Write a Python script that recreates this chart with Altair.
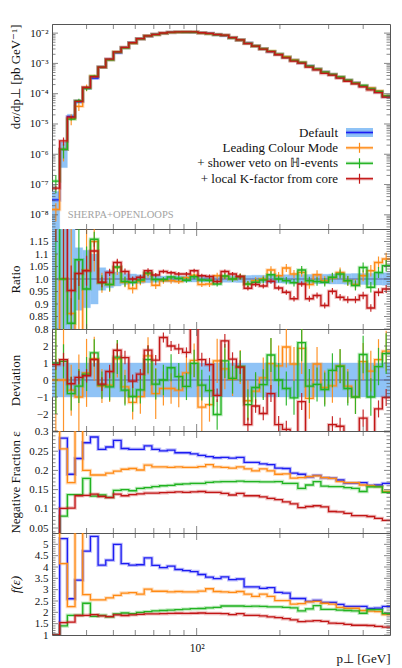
import math
import altair as alt
import pandas as pd

# ---------------- data ----------------
EDGES = [30.0, 31.98, 34.09, 36.34, 38.74, 41.3, 44.03, 46.94, 50.04, 53.34, 56.86,
         60.62, 64.62, 68.89, 73.44, 78.29, 83.46, 88.97, 94.85, 101.11, 107.79,
         114.9, 122.49, 130.58, 139.2, 148.4, 158.2, 168.64, 179.78, 191.65, 204.31,
         217.8, 232.18, 247.52, 263.86, 281.28, 299.86, 319.66, 340.77, 363.27,
         387.26, 412.84, 440.1, 469.16, 500.0]

SERIES = ["Default", "Leading Colour Mode", "+ shower veto on \u210d-events",
          "+ local K-factor from core"]

xsec_default = [3.1e-8, 1.45e-6, 1.75e-5, 5.5e-5, 1.55e-4, 3.3e-4, 7.6e-4, 1.35e-3, 2.25e-3, 3.3e-3,
                4.8e-3, 6.5e-3, 7.9e-3, 9.0e-3, 9.8e-3, 1.05e-2, 1.08e-2, 1.08e-2, 1.06e-2, 1.02e-2,
                9.7e-3, 9.0e-3, 8.3e-3, 7.0e-3, 5.9e-3, 4.7e-3, 3.8e-3, 3.05e-3, 2.45e-3, 2.0e-3,
                1.6e-3, 1.28e-3, 1.04e-3, 8.2e-4, 6.5e-4, 5.2e-4, 4.3e-4, 3.5e-4, 2.8e-4, 2.3e-4,
                1.8e-4, 1.5e-4, 1.15e-4, 8.0e-5]
xsec_lc = [1.5e-8, 1.45e-6, 1.5e-5, 3.8e-5, 1.6e-4, 3.8e-4, 7.5e-4, 1.32e-3, 2.35e-3, 3.26e-3,
           4.6e-3, 6.45e-3, 8.05e-3, 8.8e-3, 9.75e-3, 1.04e-2, 1.07e-2, 1.09e-2, 1.08e-2, 1.0e-2,
           9.5e-3, 9.1e-3, 8.4e-3, 7.0e-3, 5.95e-3, 4.6e-3, 3.77e-3, 3.05e-3, 2.54e-3, 2.03e-3,
           1.67e-3, 1.31e-3, 1.07e-3, 8.0e-4, 6.6e-4, 5.15e-4, 4.3e-4, 3.6e-4, 2.78e-4, 2.25e-4,
           1.82e-4, 1.55e-4, 1.23e-4, 8.6e-5]
xsec_veto = [1.3e-7, 1.45e-6, 1.45e-5, 5.9e-5, 1.5e-4, 3.8e-4, 7.5e-4, 1.32e-3, 2.36e-3, 3.27e-3,
             4.74e-3, 6.47e-3, 8.1e-3, 9.0e-3, 9.8e-3, 1.06e-2, 1.08e-2, 1.07e-2, 1.07e-2, 1.02e-2,
             9.65e-3, 8.8e-3, 8.4e-3, 7.0e-3, 5.95e-3, 4.6e-3, 3.75e-3, 3.04e-3, 2.49e-3, 2.0e-3,
             1.59e-3, 1.26e-3, 1.08e-3, 8.15e-4, 6.45e-4, 5.13e-4, 4.33e-4, 3.57e-4, 2.78e-4, 2.24e-4,
             1.88e-4, 1.45e-4, 1.18e-4, 8.4e-5]
xsec_kf = [7.6e-8, 2.75e-6, 1.67e-5, 5.6e-5, 1.6e-4, 3.65e-4, 7.5e-4, 1.39e-3, 2.4e-3, 3.4e-3,
           4.8e-3, 6.55e-3, 8.15e-3, 9.15e-3, 1.01e-2, 1.08e-2, 1.1e-2, 1.1e-2, 1.1e-2, 1.03e-2,
           9.8e-3, 8.9e-3, 8.55e-3, 7.15e-3, 5.95e-3, 4.53e-3, 3.72e-3, 2.96e-3, 2.43e-3, 1.93e-3,
           1.52e-3, 1.18e-3, 1.02e-3, 7.55e-4, 6.07e-4, 4.65e-4, 4.09e-4, 3.24e-4, 2.57e-4, 2.11e-4,
           1.68e-4, 1.33e-4, 1.09e-4, 7.7e-5]
default_relerr = [0.9, 0.75, 0.2, 0.125, 0.115, 0.1, 0.045, 0.035, 0.028, 0.022,
                  0.02, 0.017, 0.015, 0.013, 0.012, 0.012, 0.012, 0.012, 0.012, 0.012,
                  0.012, 0.012, 0.013, 0.013, 0.014, 0.014, 0.015, 0.015, 0.016, 0.016,
                  0.017, 0.017, 0.018, 0.018, 0.019, 0.019, 0.02, 0.02, 0.021, 0.022,
                  0.022, 0.023, 0.024, 0.025]

ratio_default = [1.0] * 44
ratio_lc = [0.5, 1.0, 0.862, 0.72, 1.035, 1.15, 0.985, 0.978, 1.046, 0.987,
            0.962, 0.99, 1.02, 0.975, 0.993, 0.993, 0.99, 1.005, 1.015, 0.978,
            0.98, 1.013, 1.01, 1.0, 1.01, 0.98, 0.993, 1.0, 1.036, 1.013,
            1.044, 1.02, 1.026, 0.978, 1.017, 0.993, 1.005, 1.026, 0.993, 0.978,
            1.013, 1.033, 1.066, 1.08]
ratio_err_lc = [0.6, 0.6, 0.4, 0.3, 0.25, 0.12, 0.04, 0.03, 0.03, 0.02,
                0.02, 0.015, 0.015, 0.015, 0.012, 0.012, 0.01, 0.01, 0.01, 0.01,
                0.012, 0.012, 0.012, 0.012, 0.013, 0.013, 0.014, 0.014, 0.015, 0.015,
                0.016, 0.016, 0.017, 0.017, 0.018, 0.018, 0.019, 0.02, 0.02, 0.021,
                0.022, 0.023, 0.024, 0.025]
ratio_veto = [1.3, 1.0, 0.823, 1.077, 0.96, 1.159, 0.985, 0.978, 1.048, 0.99,
              0.987, 0.996, 1.024, 0.998, 0.998, 1.008, 1.003, 0.995, 1.009, 0.996,
              0.995, 0.98, 1.012, 1.0, 1.009, 0.98, 0.987, 0.996, 1.017, 1.0,
              0.993, 0.985, 1.036, 0.993, 0.99, 0.987, 1.007, 1.02, 0.993, 0.974,
              1.046, 0.967, 1.026, 1.053]
ratio_err_veto = [0.6, 0.5, 0.1, 0.16, 0.17, 0.03, 0.03, 0.025, 0.02, 0.02,
                  0.015, 0.015, 0.012, 0.012, 0.01, 0.01, 0.01, 0.01, 0.01, 0.01,
                  0.01, 0.01, 0.012, 0.012, 0.012, 0.012, 0.013, 0.013, 0.014, 0.014,
                  0.015, 0.015, 0.016, 0.016, 0.017, 0.017, 0.018, 0.018, 0.019, 0.02,
                  0.02, 0.021, 0.022, 0.023]
ratio_kf = [1.3, 1.3, 0.954, 1.022, 1.033, 1.112, 0.987, 1.026, 1.066, 1.03,
            1.0, 1.007, 1.033, 1.016, 1.03, 1.025, 1.02, 1.02, 1.033, 1.013,
            1.01, 0.99, 1.03, 1.02, 1.01, 0.963, 0.978, 0.972, 0.991, 0.964,
            0.947, 0.921, 0.98, 0.921, 0.934, 0.894, 0.951, 0.927, 0.917, 0.917,
            0.934, 0.884, 0.947, 0.96]
ratio_err_kf = [0.15, 0.3, 0.1, 0.05, 0.06, 0.04, 0.02, 0.015, 0.015, 0.012,
                0.01, 0.01, 0.01, 0.008, 0.008, 0.008, 0.008, 0.008, 0.008, 0.008,
                0.008, 0.008, 0.008, 0.008, 0.009, 0.009, 0.009, 0.01, 0.01, 0.01,
                0.01, 0.011, 0.011, 0.012, 0.012, 0.012, 0.013, 0.013, 0.014, 0.014,
                0.015, 0.015, 0.016, 0.016]

dev_default = [0.0] * 44
dev_lc = [0.0, 0.0, -0.6, -1.0, 0.42, 1.25, -0.36, -0.3, 1.25, -0.4,
          -1.32, -0.98, 1.42, -0.8, -0.5, -0.5, -0.6, 0.42, 1.15, -1.6,
          -1.45, 1.13, 0.65, 0.06, 0.76, -1.22, -0.66, 0.13, 0.96, 0.83,
          1.94, 0.94, 1.86, -1.08, 0.94, -0.44, -0.34, 0.83, -0.36, -0.99,
          1.08, 0.52, 1.2, 1.7]
dev_err_lc = [3.0, 3.0, 1.5, 2.5, 2.0, 1.3, 1.0, 1.0, 1.1, 1.0,
              1.0, 1.0, 1.1, 1.5, 1.0, 0.9, 1.0, 1.0, 1.0, 1.5,
              1.0, 1.3, 1.2, 1.0, 1.0, 1.2, 1.0, 1.2, 1.5, 1.2,
              1.2, 1.0, 1.5, 1.2, 1.0, 1.0, 1.0, 1.0, 1.0, 1.0,
              1.1, 1.2, 1.2, 1.2]
dev_veto = [1.0, 1.1, -0.8, -0.36, 0.35, 1.6, -0.3, -0.4, 1.35, -0.6,
            -0.97, -0.58, 1.2, -0.24, 0.0, 0.72, 0.2, -0.38, 0.98, -0.3,
            -0.63, -2.03, 1.12, 0.1, 0.8, -1.45, -0.44, -0.27, 1.47, 0.0,
            -0.5, -1.05, 2.2, -0.36, -0.26, -0.56, 0.57, 0.81, -0.5, -1.0,
            1.5, -1.0, 0.79, 1.55]
dev_err_veto = [3.0, 1.0, 1.0, 1.0, 1.0, 0.8, 0.8, 0.8, 1.0, 0.9,
                0.9, 0.8, 0.8, 0.9, 0.9, 0.8, 0.8, 0.8, 0.8, 0.9,
                0.9, 0.9, 1.0, 0.9, 0.9, 0.9, 0.9, 0.9, 1.0, 1.0,
                1.0, 1.0, 1.1, 1.0, 1.0, 1.0, 1.0, 1.0, 1.0, 1.0,
                1.1, 1.1, 1.1, 1.2]
dev_kf = [0.9, 1.2, -0.22, 0.15, 0.25, 1.2, -0.24, 0.5, 1.75, 1.32,
          -0.07, 0.35, 1.76, 1.17, 2.5, 2.0, 1.83, 1.62, 3.5, 1.2,
          0.9, -0.9, 2.3, 1.23, 0.76, -2.62, -1.53, -1.97, -0.8, -2.62,
          -2.9, -3.5, -1.27, -3.5, -3.5, -3.5, -2.63, -2.72, -3.5, -3.5,
          -2.24, -3.5, -1.7, -1.03]
dev_err_kf = [0.3, 0.4, 0.4, 0.4, 0.4, 0.4, 0.4, 0.4, 0.4, 0.4,
              0.4, 0.3, 0.3, 0.3, 0.3, 0.3, 0.3, 0.3, 0.3, 0.4,
              0.4, 0.4, 0.4, 0.4, 0.4, 0.4, 0.4, 0.4, 0.5, 0.5,
              0.5, 0.5, 0.5, 0.5, 0.5, 0.5, 0.5, 0.5, 0.5, 0.5,
              0.5, 0.5, 0.5, 0.5]

eps_default = [0.0, 0.284, 0.19, 0.231, 0.272, 0.287, 0.255, 0.261, 0.278, 0.257,
               0.255, 0.255, 0.264, 0.255, 0.251, 0.253, 0.246, 0.246, 0.243, 0.239,
               0.236, 0.233, 0.234, 0.232, 0.234, 0.221, 0.221, 0.217, 0.215, 0.206,
               0.205, 0.193, 0.19, 0.183, 0.187, 0.181, 0.18, 0.175, 0.167, 0.167,
               0.168, 0.161, 0.162, 0.166]
eps_lc = [0.35, 0.256, 0.168, 0.34, 0.2, 0.188, 0.188, 0.193, 0.198, 0.203,
          0.205, 0.201, 0.214, 0.209, 0.209, 0.208, 0.209, 0.208, 0.208, 0.21,
          0.215, 0.209, 0.208, 0.206, 0.209, 0.204, 0.199, 0.204, 0.199, 0.19,
          0.191, 0.18, 0.181, 0.184, 0.186, 0.181, 0.179, 0.171, 0.168, 0.168,
          0.162, 0.16, 0.158, 0.145]
eps_veto = [0.0, 0.081, 0.137, 0.137, 0.179, 0.133, 0.136, 0.13, 0.148, 0.15,
            0.147, 0.153, 0.155, 0.158, 0.16, 0.161, 0.164, 0.165, 0.166, 0.166,
            0.169, 0.17, 0.171, 0.171, 0.172, 0.171, 0.171, 0.17, 0.17, 0.171,
            0.166, 0.166, 0.153, 0.162, 0.171, 0.159, 0.158, 0.158, 0.155, 0.153,
            0.145, 0.157, 0.157, 0.143]
eps_kf = [0.0, 0.101, 0.102, 0.134, 0.135, 0.138, 0.132, 0.129, 0.138, 0.134,
          0.137, 0.139, 0.141, 0.141, 0.142, 0.143, 0.144, 0.143, 0.144, 0.145,
          0.143, 0.143, 0.14, 0.136, 0.14, 0.134, 0.134, 0.131, 0.127, 0.124,
          0.118, 0.113, 0.103, 0.106, 0.108, 0.105, 0.093, 0.092, 0.088, 0.082,
          0.082, 0.08, 0.075, 0.07]

f_default = [1.0, 5.25, 2.6, 3.42, 4.7, 5.35, 4.08, 4.3, 5.0, 4.15,
             4.08, 4.1, 4.4, 4.07, 3.97, 4.04, 3.89, 3.84, 3.8, 3.67,
             3.55, 3.49, 3.56, 3.44, 3.47, 3.12, 3.12, 3.06, 3.09, 2.88,
             2.85, 2.61, 2.61, 2.48, 2.53, 2.44, 2.44, 2.35, 2.26, 2.26,
             2.26, 2.17, 2.19, 2.26]
f_lc = [10.0, 4.15, 2.25, 9.5, 2.78, 2.55, 2.55, 2.64, 2.75, 2.85,
        2.87, 2.8, 3.02, 2.93, 2.93, 2.9, 2.92, 2.9, 2.9, 2.94,
        3.04, 2.92, 2.9, 2.88, 2.92, 2.8, 2.7, 2.8, 2.7, 2.52,
        2.52, 2.36, 2.38, 2.46, 2.48, 2.4, 2.36, 2.22, 2.18, 2.18,
        2.08, 2.05, 2.03, 1.9]
f_veto = [1.0, 1.4, 1.87, 1.87, 2.4, 1.82, 1.87, 1.8, 1.93, 1.97,
          1.94, 2.0, 2.03, 2.06, 2.08, 2.1, 2.12, 2.14, 2.16, 2.17,
          2.2, 2.22, 2.28, 2.28, 2.28, 2.26, 2.27, 2.26, 2.24, 2.24,
          2.22, 2.2, 2.06, 2.15, 2.3, 2.13, 2.13, 2.1, 2.08, 2.06,
          1.96, 2.12, 2.12, 1.95]
f_kf = [1.0, 1.55, 1.57, 1.86, 1.87, 1.9, 1.84, 1.81, 1.89, 1.86,
        1.89, 1.91, 1.93, 1.93, 1.94, 1.95, 1.96, 1.95, 1.96, 1.97,
        1.95, 1.95, 1.94, 1.9, 1.94, 1.87, 1.87, 1.84, 1.8, 1.77,
        1.72, 1.67, 1.59, 1.61, 1.63, 1.6, 1.52, 1.51, 1.47, 1.43,
        1.43, 1.42, 1.38, 1.35]

# ---------------- styling / layout ----------------
W = 338
H_TOP, H_RAT, H_DEV, H_NEG, H_F = 205, 100, 102, 102, 102
FONT = "Liberation Serif"
FRAME = "#555555"
COLORS = ["#1c1cf2", "#ff8a14", "#21b321", "#c21616"]
REFCOL = "#56669f"
BANDCOL = "#8fc3f6"
TITLE_X = -37

CENTERS = [math.sqrt(EDGES[k] * EDGES[k + 1]) for k in range(len(EDGES) - 1)]
XS = alt.Scale(type="log", domain=[30, 500], nice=False)
X_MAJOR = [100]
X_MINOR = [40, 50, 60, 70, 80, 90, 200, 300, 400]


class Panel:
    """Collects the layers of one panel; every layer gets the same axis objects."""

    def __init__(self, ys, yaxis, h, xaxis=None):
        self.ys, self.yaxis, self.h, self.xaxis = ys, yaxis, h, xaxis
        self.layers = []

    def X(self, field):
        return alt.X(field, scale=XS, axis=self.xaxis)

    def Y(self, field):
        return alt.Y(field, scale=self.ys, axis=self.yaxis)

    def steps(self, vals, color, width=1.3, halo=True):
        df = pd.DataFrame({"x": EDGES, "y": list(vals) + [vals[-1]]})
        base = alt.Chart(df).encode(x=self.X("x:Q"), y=self.Y("y:Q"))
        if halo:
            self.layers.append(base.mark_line(interpolate="step-after", clip=True, color=color,
                                              strokeWidth=3.4, opacity=0.28))
        self.layers.append(base.mark_line(interpolate="step-after", clip=True, color=color,
                                          strokeWidth=width))

    def errors(self, lo, hi, color):
        df = pd.DataFrame({"x": CENTERS, "lo": lo, "hi": hi})
        self.layers.append(alt.Chart(df).mark_rule(clip=True, color=color, strokeWidth=1.2,
                                                   opacity=0.9).encode(
            x=self.X("x:Q"), y=self.Y("lo:Q"), y2="hi:Q"))

    def band(self, x0, x1, lo, hi):
        df = pd.DataFrame({"x": x0, "x2": x1, "lo": lo, "hi": hi})
        self.layers.append(alt.Chart(df).mark_rect(clip=True, color=BANDCOL, stroke=BANDCOL,
                                                   strokeWidth=0.4).encode(
            x=self.X("x:Q"), x2="x2:Q", y=self.Y("lo:Q"), y2="hi:Q"))

    def ticks(self, major, minor):
        ydf = pd.DataFrame({"v": major + minor, "sz": [12] * len(major) + [7] * len(minor)})
        xdf = pd.DataFrame({"v": X_MAJOR + X_MINOR,
                            "sz": [14] * len(X_MAJOR) + [10] * len(X_MINOR)})
        for xpos in (0, W):
            self.layers.append(alt.Chart(ydf).mark_tick(orient="horizontal", clip=True,
                                                        color=FRAME, thickness=1).encode(
                y=self.Y("v:Q"), x=alt.value(xpos), size=alt.Size("sz:Q", scale=None)))
        for ypos in (self.h, 0):
            self.layers.append(alt.Chart(xdf).mark_tick(orient="vertical", clip=True,
                                                        color=FRAME, thickness=1).encode(
                x=self.X("v:Q"), y=alt.value(ypos), size=alt.Size("sz:Q", scale=None)))

    def chart(self):
        return alt.layer(*self.layers).properties(width=W, height=self.h)


def lin_ticks(lo, hi, step):
    n = int(round((hi - lo) / step))
    return [round(lo + i * step, 4) for i in range(n + 1)]


def yaxis(title, values, **kw):
    return alt.Axis(title=title, values=values, titleX=TITLE_X, titleBaseline="middle", **kw)


# ---------------- top panel ----------------
YS_TOP = alt.Scale(type="log", domain=[3.4e-9, 0.02], nice=False)
sup = {-8: "\u207b\u2078", -7: "\u207b\u2077", -6: "\u207b\u2076", -5: "\u207b\u2075",
       -4: "\u207b\u2074", -3: "\u207b\u00b3", -2: "\u207b\u00b2"}
expr = "'10" + sup[-2] + "'"
for e in range(-3, -9, -1):
    expr = "datum.value < %g ? '10%s' : %s" % (3 * 10 ** e, sup[e], expr)
top_major = [10.0 ** e for e in range(-8, -1)]
top_minor = [m * 10.0 ** e for e in range(-9, -1) for m in range(2, 10)]
P = Panel(YS_TOP, yaxis("d\u03c3/dp\u22a5 [pb GeV\u207b\u00b9]", top_major, labelExpr=expr,
                        titleAnchor="end"), H_TOP)
P.band(EDGES[:-1], EDGES[1:],
       [v * max(1 - r, 1e-3) for v, r in zip(xsec_default, default_relerr)],
       [v * (1 + r) for v, r in zip(xsec_default, default_relerr)])
P.steps(xsec_default, COLORS[0])
for vals, errs, col in ((xsec_lc, ratio_err_lc, COLORS[1]),
                        (xsec_veto, ratio_err_veto, COLORS[2]),
                        (xsec_kf, ratio_err_kf, COLORS[3])):
    P.errors([v * max(1 - e, 1e-3) for v, e in zip(vals, errs)],
             [v * (1 + e) for v, e in zip(vals, errs)], col)
    P.steps(vals, col)
P.ticks(top_major, top_minor)

# legend (annotation)
LEG_TEXT_X, LEG_X0, LEG_X1, LEG_XC = 286, 294, 321, 307.5
LEG_Y = [108.5, 123.8, 139.3, 154.7]
P.layers.append(alt.Chart().mark_rect(color=BANDCOL).encode(
    x=alt.value(LEG_X0), x2=alt.value(LEG_X1), y=alt.value(LEG_Y[0] - 4.5),
    y2=alt.value(LEG_Y[0] + 4.5)))
for i, (name, col) in enumerate(zip(SERIES, COLORS)):
    yy = LEG_Y[i]
    P.layers.append(alt.Chart().mark_rule(color=col, strokeWidth=3.4, opacity=0.28).encode(
        x=alt.value(LEG_X0), x2=alt.value(LEG_X1), y=alt.value(yy)))
    P.layers.append(alt.Chart().mark_rule(color=col, strokeWidth=1.3).encode(
        x=alt.value(LEG_X0), x2=alt.value(LEG_X1), y=alt.value(yy)))
    if i > 0:
        P.layers.append(alt.Chart().mark_rule(color=col, strokeWidth=1.2).encode(
            x=alt.value(LEG_XC), y=alt.value(yy - 5), y2=alt.value(yy + 5)))
    P.layers.append(alt.Chart().mark_text(align="right", baseline="middle", font=FONT,
                                          fontSize=13, color="#111").encode(
        x=alt.value(LEG_TEXT_X), y=alt.value(yy), text=alt.value(name)))
P.layers.append(alt.Chart().mark_text(align="left", baseline="alphabetic", font=FONT,
                                      fontSize=10.5, color="#a3a3a3").encode(
    x=alt.value(15.7), y=alt.value(194), text=alt.value("SHERPA+OPENLOOPS")))
top = P.chart()

# ---------------- ratio panel ----------------
YS_RAT = alt.Scale(domain=[0.8, 1.2], nice=False, zero=False)
P = Panel(YS_RAT, yaxis("Ratio", [0.8, 0.85, 0.9, 0.95, 1.0, 1.05, 1.1, 1.15],
                        labelExpr="datum.value == 1 ? '1.0' : format(datum.value, '.2~f')"), H_RAT)
P.band(EDGES[:-1], EDGES[1:], [1 - r for r in default_relerr], [1 + r for r in default_relerr])
P.steps(ratio_default, REFCOL, width=1.2, halo=False)
for vals, errs, col in ((ratio_lc, ratio_err_lc, COLORS[1]),
                        (ratio_veto, ratio_err_veto, COLORS[2]),
                        (ratio_kf, ratio_err_kf, COLORS[3])):
    P.errors([v - e for v, e in zip(vals, errs)], [v + e for v, e in zip(vals, errs)], col)
    P.steps(vals, col)
rat_major = lin_ticks(0.8, 1.2, 0.05)
P.ticks(rat_major, [t for t in lin_ticks(0.8, 1.2, 0.01) if t not in rat_major])
ratio = P.chart()

# ---------------- deviation panel ----------------
YS_DEV = alt.Scale(domain=[-3, 3], nice=False, zero=False)
P = Panel(YS_DEV, yaxis("Deviation", [-2, -1, 0, 1, 2], format="d"), H_DEV)
P.band([EDGES[0]], [EDGES[-1]], [-1.0], [1.0])
P.steps(dev_default, REFCOL, width=1.2, halo=False)
for vals, errs, col in ((dev_lc, dev_err_lc, COLORS[1]),
                        (dev_veto, dev_err_veto, COLORS[2]),
                        (dev_kf, dev_err_kf, COLORS[3])):
    P.errors([v - e for v, e in zip(vals, errs)], [v + e for v, e in zip(vals, errs)], col)
    P.steps(vals, col)
dev_major = lin_ticks(-3, 3, 1)
P.ticks(dev_major, [t for t in lin_ticks(-3, 3, 0.2) if t not in dev_major])
deviation = P.chart()

# ---------------- negative fraction panel ----------------
YS_NEG = alt.Scale(domain=[0.037, 0.3026], nice=False, zero=False)
P = Panel(YS_NEG, yaxis("Negative Fraction \u03b5", [0.05, 0.1, 0.15, 0.2, 0.25, 0.3],
                        format=".2~f"), H_NEG)
for vals, col in ((eps_default, COLORS[0]), (eps_lc, COLORS[1]),
                  (eps_veto, COLORS[2]), (eps_kf, COLORS[3])):
    P.steps(vals, col)
neg_major = lin_ticks(0.05, 0.3, 0.05)
P.ticks(neg_major, [t for t in lin_ticks(0.04, 0.3, 0.01) if t not in neg_major])
negfrac = P.chart()

# ---------------- f(eps) panel ----------------
YS_F = alt.Scale(domain=[1.0, 5.5], nice=False, zero=False)
x_axis = alt.Axis(title="p\u22a5 [GeV]", values=[100], labelExpr="'10\u00b2'",
                  titleAnchor="end", titleBaseline="alphabetic", titleY=27.5,
                  labelPadding=7, labelFontSize=11.5, labelFlush=False)
P = Panel(YS_F, yaxis("f(\u03b5)", lin_ticks(1, 5, 0.5), format=".1~f",
                      titleFontStyle="italic"), H_F, xaxis=x_axis)
for vals, col in ((f_default, COLORS[0]), (f_lc, COLORS[1]),
                  (f_veto, COLORS[2]), (f_kf, COLORS[3])):
    P.steps(vals, col)
f_major = lin_ticks(1, 5.5, 0.5)
P.ticks(f_major, [t for t in lin_ticks(1, 5.5, 0.1) if t not in f_major])
fpanel = P.chart()

chart = alt.vconcat(top, ratio, deviation, negfrac, fpanel, spacing=0, bounds="flush").properties(
    padding={"left": 0, "top": 15, "right": 2, "bottom": 0}
).configure_axis(
    labelFont=FONT, titleFont=FONT, labelFontSize=11, titleFontSize=13,
    titleFontWeight="normal", labelColor="#111111", titleColor="#111111",
    grid=False, ticks=False, tickSize=0, domain=False, labelPadding=4
).configure_view(stroke=FRAME, strokeWidth=1)

chart.save("out.html", embed_options={"renderer": "svg", "actions": False})
